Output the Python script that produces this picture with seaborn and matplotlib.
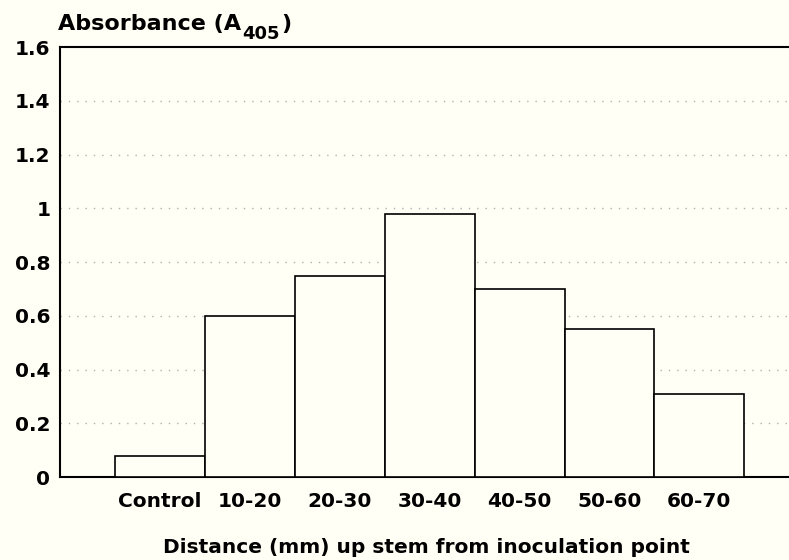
import matplotlib
matplotlib.use("Agg")
import matplotlib.pyplot as plt
import seaborn as sns
import pandas as pd

categories = ["Control", "10-20", "20-30", "30-40", "40-50", "50-60", "60-70"]
absorbance = [0.08, 0.60, 0.75, 0.98, 0.70, 0.55, 0.31]
yticks = [0, 0.2, 0.4, 0.6, 0.8, 1.0, 1.2, 1.4, 1.6]
yticklabels = ["0", "0.2", "0.4", "0.6", "0.8", "1", "1.2", "1.4", "1.6"]

sns.set_theme(style="white")
plt.rcParams['font.family'] = ['DejaVu Sans']
plt.rcParams['font.weight'] = 'bold'
for k in ['text.color', 'axes.labelcolor', 'xtick.color', 'ytick.color']:
    plt.rcParams[k] = 'black'

bg = '#fffff5'
df = pd.DataFrame({"cat": categories, "val": absorbance})

fig = plt.figure(figsize=(7.89, 5.6), dpi=100, facecolor=bg)
ax = fig.add_axes([0.076, 0.148, 0.93, 0.768])
ax.set_facecolor(bg)

sns.barplot(data=df, x="cat", y="val", color=bg, edgecolor="black",
            linewidth=1.2, width=1.0, saturation=1, ax=ax, zorder=3)

ax.set_xlim(-1.116, 7.05)
ax.set_ylim(0, 1.6)
ax.set_yticks(yticks)
ax.set_yticklabels(yticklabels, fontsize=14.5, fontweight='bold')
ax.tick_params(axis='x', labelsize=14.5, length=0, pad=11)
ax.tick_params(axis='y', length=0, pad=7)
for lbl in ax.get_xticklabels():
    lbl.set_fontweight('bold')

for y in yticks[1:-1]:
    ax.axhline(y, color='#b0b0b0', linestyle=(0, (1, 5)), linewidth=1.0, zorder=1)

for s in ['left', 'top', 'bottom']:
    ax.spines[s].set_visible(True)
    ax.spines[s].set_color('black')
    ax.spines[s].set_linewidth(1.5)
ax.spines['right'].set_visible(False)

ax.set_ylabel("")
ax.set_xlabel("Distance (mm) up stem from inoculation point", fontsize=14.5,
              fontweight='bold', labelpad=19)

base_y = 0.946
t1 = fig.text(0.073, base_y, "Absorbance (A", fontsize=16, fontweight='bold',
              ha='left', va='baseline')
t2 = fig.text(0, 0, "405", fontsize=13, fontweight='bold')
t2.remove()
t2 = ax.annotate("405", xy=(1, base_y), xycoords=(t1, 'figure fraction'),
                 xytext=(1, -6), textcoords='offset points', fontsize=13,
                 fontweight='bold', ha='left', va='baseline',
                 annotation_clip=False)
ax.annotate(")", xy=(1, base_y), xycoords=(t2, 'figure fraction'),
            xytext=(1, 0), textcoords='offset points', fontsize=16,
            fontweight='bold', ha='left', va='baseline',
            annotation_clip=False)

fig.savefig("out.png", dpi=100, facecolor=bg)
